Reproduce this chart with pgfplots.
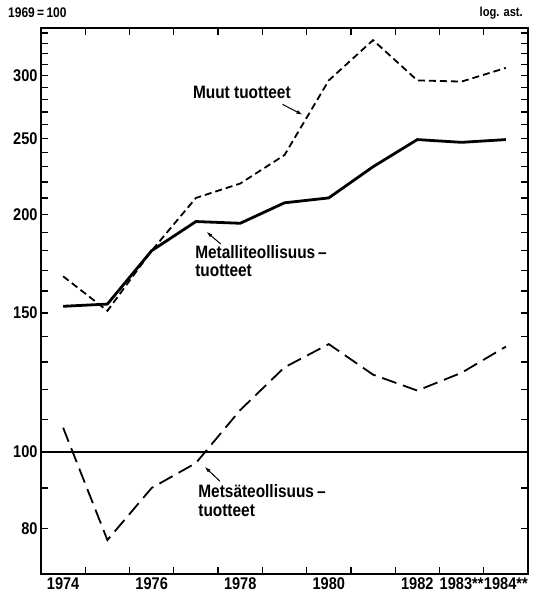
\documentclass[border=0pt]{standalone}
\usepackage{fontspec}
\setmainfont{Liberation Sans}[FakeStretch=0.86]
\usepackage{pgfplots}
\pgfplotsset{compat=1.18}
\usetikzlibrary{arrows.meta}
\begin{document}
\begin{tikzpicture}
\begin{axis}[name=ax, scale only axis, width=487bp, height=546bp,
 xmin=1973.5, xmax=1984.5, ymode=log, ymin=70, ymax=345,
 axis line style={line width=1.5bp},
 xtick={1974,1976,1978,1980,1982,1983,1984},
 xticklabels={1974,1976,1978,1980,1982,1983**,1984**},
 minor xtick={1974.5,1975.5,1976.5,1977.5,1978.5,1979.5,1980.5,1981.5,1982.5,1983.5},
 major x tick style={draw=none},
 ytick={80,100,150,200,250,300},
 yticklabels={80,100,150,200,250,300},
 minor ytick={90,110,120,130,140,160,170,180,190,210,220,230,240,260,270,280,290,310,320,330,340},
 tick align=inside, major tick length=7.5bp, minor tick length=7.5bp,
 every tick/.style={line width=1.3bp, black},
 ticklabel style={font=\fontsize{17}{17}\selectfont\bfseries},
 /pgf/number format/assume math mode=true,
]
\addplot[line width=1.5bp] coordinates {(1973.5,100)(1984.5,100)};
% Metalliteollisuustuotteet
\addplot[line width=2.8bp] coordinates {
(1974,153)(1975,154)(1976,180)(1977,196)(1978,195)(1979,207)(1980,210)(1981,230)(1982,249)(1983,247)(1984,249)};
% Muut tuotteet
\addplot[line width=1.8bp, dash pattern=on 7bp off 4bp] coordinates {
(1974,167)(1975,151)(1976,180)(1977,210)(1978,219)(1979,238)(1980,296)(1981,333)(1982,296)(1983,295)(1984,307)};
% Metsateollisuustuotteet
\addplot[line width=1.8bp, dash pattern=on 15bp off 7bp] coordinates {
(1974,107.3)(1975,77.3)(1976,90)(1977,96.8)(1978,113)(1979,128)(1980,137)(1981,125.3)(1982,119.6)(1983,126)(1984,136)};

\tikzset{lbl/.style={anchor=base west, inner sep=0pt, font=\fontsize{18}{18}\selectfont\bfseries}}
\node[lbl] at (axis cs:1976.93,280.5) {Muut tuotteet};
\node[lbl] at (axis cs:1976.98,175.7) {Metalliteollisuus\,--};
\node[lbl] at (axis cs:1976.98,167.1) {tuotteet};
\node[lbl] at (axis cs:1977.05,87.4) {Metsäteollisuus\,--};
\node[lbl] at (axis cs:1977.05,82.9) {tuotteet};
\draw[line width=1bp, -{Latex[length=6bp,width=4bp]}] (axis cs:1978.955,276) -- (axis cs:1979.405,267.8);
\draw[line width=1bp, -{Latex[length=6bp,width=4bp]}] (axis cs:1977.56,183.5) -- (axis cs:1977.24,190.2);
\draw[line width=1bp, -{Latex[length=6bp,width=4bp]}] (axis cs:1977.54,91.8) -- (axis cs:1977.20,95.7);
\end{axis}
\node[anchor=base west, inner sep=0pt, font=\fontsize{14}{14}\selectfont\bfseries] at ([shift={(-33bp,10bp)}]ax.north west) {1969\,=\,100};
\node[anchor=base east, inner sep=0pt, font=\fontsize{13}{13}\selectfont\bfseries] at ([shift={(-5bp,11bp)}]ax.north east) {log. ast.};
\pgfresetboundingbox
\path[use as bounding box] ([shift={(-41bp,-19bp)}]ax.south west) rectangle ([shift={(11bp,28bp)}]ax.north east);
\end{tikzpicture}
\end{document}
